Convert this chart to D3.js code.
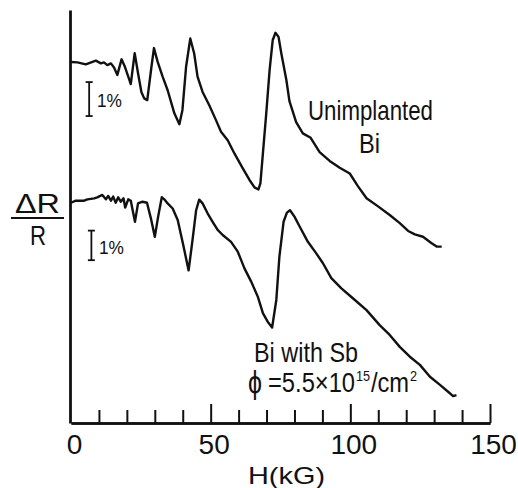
<!DOCTYPE html>
<html>
<head>
<meta charset="utf-8">
<script src="https://cdn.jsdelivr.net/npm/d3@7"></script>
<style>
  body { margin: 0; background: #fff; }
  text { font-family: "Liberation Sans Narrow", "Liberation Sans", Arial, sans-serif; fill: #111; }
</style>
</head>
<body>
<div id="chart"></div>
<script>
// field H in kG, signal in % (arbitrary offset per curve)
const unimplantedH = [0, 2.3, 5.3, 8.9, 10.7, 11.8, 13.0, 14.3, 15.4, 16.6, 18.1, 19.3, 20.5, 21.4, 22.8, 24.0, 25.2, 26.2, 27.3, 28.8, 29.7, 31.0, 32.8, 34.6, 37.0, 38.8, 39.9, 41.2, 42.7, 44.1, 45.3, 47.1, 49.5, 51.9, 53.7, 56.1, 58.5, 61.5, 63.9, 65.7, 67.1, 67.8, 68.7, 69.9, 71.1, 72.2, 73.2, 74.3, 75.3, 77.1, 78.2, 80.6, 83.0, 85.8, 89.0, 92.6, 96.2, 99.8, 102.7, 105.8, 109.8, 114.1, 117.7, 120.7, 123.1, 126.0, 129.1, 130.9, 132.7];
const unimplantedR = [10.62, 10.61, 10.55, 10.66, 10.58, 10.61, 10.53, 10.58, 10.46, 10.24, 10.70, 10.48, 10.19, 9.97, 10.88, 10.29, 9.74, 9.55, 9.50, 10.48, 11.03, 10.63, 10.19, 9.79, 9.11, 8.79, 9.21, 10.48, 11.31, 10.87, 10.19, 9.74, 9.35, 8.91, 8.57, 8.32, 7.93, 7.49, 7.15, 6.93, 6.87, 7.05, 7.93, 9.11, 10.38, 11.26, 11.48, 11.36, 10.87, 10.09, 9.47, 8.85, 8.52, 8.39, 7.97, 7.71, 7.51, 7.34, 6.97, 6.61, 6.38, 6.12, 5.88, 5.65, 5.55, 5.48, 5.29, 5.19, 5.19];

const implantedH = [0, 1.7, 4.7, 5.9, 8.3, 9.4, 11.2, 12.5, 13.3, 14.3, 15.1, 16.0, 16.9, 17.8, 18.8, 19.4, 20.5, 21.4, 22.9, 24.0, 25.6, 27.2, 28.6, 30.0, 31.2, 32.5, 33.4, 34.6, 36.4, 38.2, 40.3, 42.1, 43.5, 44.8, 45.9, 47.1, 48.9, 50.7, 52.5, 54.3, 57.3, 59.7, 62.1, 64.5, 66.9, 68.7, 70.4, 72.0, 73.5, 74.6, 76.1, 77.3, 78.4, 80.0, 81.8, 84.8, 87.8, 90.2, 93.2, 96.8, 100.9, 105.8, 110.5, 114.1, 117.7, 121.3, 124.9, 128.5, 132.1, 135.0, 136.8, 138.0];
const implantedR = [6.48, 6.54, 6.54, 6.58, 6.61, 6.64, 6.71, 6.58, 6.68, 6.54, 6.66, 6.48, 6.64, 6.51, 6.61, 6.34, 6.58, 6.54, 5.92, 6.46, 6.51, 6.48, 6.02, 5.48, 6.07, 6.64, 6.58, 6.46, 6.31, 5.97, 5.19, 4.49, 5.38, 6.26, 6.57, 6.46, 6.17, 5.92, 5.68, 5.53, 5.33, 5.04, 4.55, 4.16, 3.71, 3.23, 2.98, 2.81, 3.62, 4.89, 5.92, 6.19, 6.26, 6.07, 5.79, 5.33, 4.99, 4.70, 4.26, 3.96, 3.67, 3.32, 2.88, 2.59, 2.24, 1.95, 1.71, 1.36, 1.12, 0.92, 0.79, 0.82];

// 1% scale bars: H position, bottom, top
const barH = [6.5, 7.3];
const barLo = [9.03, 4.79];
const barHi = [10.03, 5.66];

const majorTicks = [0, 50, 100, 150];
const minorTicks = [10, 20, 30, 40, 60, 70, 80, 90, 110, 120, 130, 140];

const width = 518, height = 488;
const svg = d3.select('#chart').append('svg')
    .attr('width', width).attr('height', height)
    .style('background', '#fff');

const x = d3.scaleLinear().domain([0, 150]).range([71, 490]);
const y = d3.scaleLinear().domain([0, 12.15]).range([423, 10]);

// axes
const xMinor = d3.axisBottom(x).tickValues(minorTicks).tickSizeInner(-13).tickSizeOuter(0).tickFormat('');
const xMajor = d3.axisBottom(x).tickValues(majorTicks).tickSizeInner(-19).tickSizeOuter(0).tickPadding(11);

const gMinor = svg.append('g').attr('transform', `translate(0,${y(0)})`).call(xMinor);
const gMajor = svg.append('g').attr('transform', `translate(0,${y(0)})`).call(xMajor);
[gMinor, gMajor].forEach(g => {
    g.select('.domain').attr('stroke', '#111').attr('stroke-width', 2.5);
    g.selectAll('.tick line').attr('stroke', '#111').attr('stroke-width', 2);
});
gMajor.select('.tick line').remove(); // 0 tick sits on the y axis
gMajor.selectAll('.tick text')
    .attr('font-size', 28).attr('dx', 3)
    .attr('fill', '#111');

const yAxis = d3.axisLeft(y).tickValues([]).tickSizeOuter(0);
svg.append('g').attr('transform', 'translate(70,0)').call(yAxis)
    .select('.domain').attr('stroke', '#111').attr('stroke-width', 2.8);

// curves
const line = d3.line().x(d => x(d[0])).y(d => y(d[1]));
const curves = [d3.zip(unimplantedH, unimplantedR), d3.zip(implantedH, implantedR)];
svg.selectAll('.curve').data(curves).join('path')
    .attr('class', 'curve')
    .attr('d', line)
    .attr('fill', 'none').attr('stroke', '#111')
    .attr('stroke-width', 2.4).attr('stroke-linejoin', 'round');

// scale bars
const bars = d3.zip(barH, barLo, barHi);
const gBar = svg.selectAll('.sbar').data(bars).join('g').attr('class', 'sbar')
    .attr('stroke', '#111').attr('stroke-width', 1.8);
gBar.append('line').attr('x1', d => x(d[0])).attr('x2', d => x(d[0]))
    .attr('y1', d => y(d[1])).attr('y2', d => y(d[2]));
gBar.append('line').attr('x1', d => x(d[0]) - 3.5).attr('x2', d => x(d[0]) + 3.5)
    .attr('y1', d => y(d[1])).attr('y2', d => y(d[1]));
gBar.append('line').attr('x1', d => x(d[0]) - 3.5).attr('x2', d => x(d[0]) + 3.5)
    .attr('y1', d => y(d[2])).attr('y2', d => y(d[2]));

// labels
function label(txt, xx, yy, size, len, anchor) {
    return svg.append('text').attr('x', xx).attr('y', yy).attr('font-size', size)
        .attr('text-anchor', anchor || 'start')
        .attr('textLength', len).attr('lengthAdjust', 'spacingAndGlyphs').text(txt);
}
label('1%', 97, 107, 19, 25);
label('1%', 99, 254, 19, 25);

label('Unimplanted', 308, 120, 28, 125);
label('Bi', 359, 153, 28, 21);
label('Bi with Sb', 254, 362, 28, 104);
label('ϕ', 248, 393, 31, 14);

// dose, one text with super-scripts
const dose = svg.append('text').attr('x', 268).attr('y', 392).attr('font-size', 28)
    .attr('textLength', 149).attr('lengthAdjust', 'spacingAndGlyphs');
dose.append('tspan').text('=5.5×10');
dose.append('tspan').attr('dy', -11).attr('dx', 1).attr('font-size', 15).text('15');
dose.append('tspan').attr('dy', 11).attr('dx', 1).text('/cm');
dose.append('tspan').attr('dy', -11).attr('dx', 1).attr('font-size', 15).text('2');

// y title
label('ΔR', 15, 213, 28, 45);
svg.append('line').attr('x1', 11).attr('x2', 64).attr('y1', 218).attr('y2', 218)
    .attr('stroke', '#111').attr('stroke-width', 2);
label('R', 30, 245, 28, 16);

// x title
label('H(kG)', 248, 484, 24, 77);
</script>
</body>
</html>
